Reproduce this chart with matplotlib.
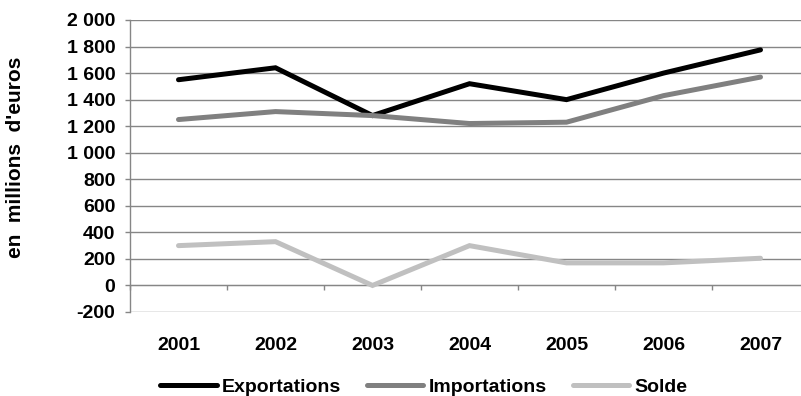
#!/usr/bin/env python3
"""
plot.py — Commerce extérieur 2001-2007

Three lines (exportations, importations, solde) in millions d'euros,
one point per year, Excel-like grey styling.
"""

import numpy as np
import matplotlib
matplotlib.use("Agg")
import matplotlib.pyplot as plt
from matplotlib.ticker import FixedLocator

# ── Data ───────────────────────────────────────────────────────────────────
YEARS        = ["2001", "2002", "2003", "2004", "2005", "2006", "2007"]
EXPORTATIONS = [1550, 1640, 1280, 1520, 1400, 1600, 1775]
IMPORTATIONS = [1250, 1310, 1280, 1220, 1230, 1430, 1570]
SOLDE        = [300, 330, 0, 300, 170, 170, 205]

Y_TICKS       = [-200, 0, 200, 400, 600, 800, 1000, 1200, 1400, 1600, 1800, 2000]
Y_TICK_LABELS = ["-200", "0", "200", "400", "600", "800", "1 000",
                 "1 200", "1 400", "1 600", "1 800", "2 000"]

# ── Style ──────────────────────────────────────────────────────────────────
OUT_FILE  = "out.png"
DPI       = 100
GRID_COL  = "#868686"
SERIES = [
    ("Exportations", EXPORTATIONS, "#000000"),
    ("Importations", IMPORTATIONS, "#808080"),
    ("Solde",        SOLDE,        "#c0c0c0"),
]
FONT = 14

plt.rcParams["font.family"] = ["Liberation Sans", "DejaVu Sans"]
plt.rcParams["font.weight"] = "bold"


def plot():
    fig = plt.figure(figsize=(801 / DPI, 396 / DPI), dpi=DPI)
    # plot area runs a little past the right edge, as in the source image
    ax = fig.add_axes([130 / 801, 1 - 312 / 396, 679 / 801, 292 / 396])

    x = np.arange(len(YEARS))
    for label, values, color in SERIES:
        ax.plot(x, values, color=color, linewidth=3.6, label=label,
                solid_capstyle="round", solid_joinstyle="miter", zorder=3)

    # y axis
    ax.set_ylim(Y_TICKS[0], Y_TICKS[-1])
    ax.set_yticks(Y_TICKS)
    ax.set_yticklabels(Y_TICK_LABELS)
    ax.yaxis.grid(True, color=GRID_COL, linewidth=1.0, zorder=0)
    ax.tick_params(axis="y", length=3.6, width=1.0, color=GRID_COL, pad=7,
                   labelsize=FONT)

    # x axis: line at 0, tick marks between categories, labels far below
    ax.set_xlim(-0.5, len(YEARS) - 0.5)
    ax.set_xticks(x)
    ax.set_xticklabels(YEARS)
    ax.xaxis.set_minor_locator(FixedLocator(np.arange(len(YEARS) + 1) - 0.5))
    ax.tick_params(axis="x", which="major", length=0, pad=37, labelsize=FONT)
    ax.tick_params(axis="x", which="minor", length=3.6, width=1.0,
                   color=GRID_COL)

    for side in ("top", "right"):
        ax.spines[side].set_visible(False)
    ax.spines["bottom"].set_position(("data", 0))
    ax.spines["bottom"].set_color(GRID_COL)
    ax.spines["left"].set_color(GRID_COL)
    ax.spines["left"].set_linewidth(1.0)
    ax.set_axisbelow(True)

    ax.set_ylabel("en  millions  d'euros", fontsize=15, fontweight="bold")
    ax.yaxis.set_label_coords(-0.154, 0.531)

    fig.legend(loc="center", bbox_to_anchor=(0.529, 0.022), ncol=3,
               frameon=False, handlelength=2.9,
               handletextpad=0.26, columnspacing=1.35,
               prop={"weight": "bold", "size": FONT})

    fig.savefig(OUT_FILE, dpi=DPI)


if __name__ == "__main__":
    plot()
